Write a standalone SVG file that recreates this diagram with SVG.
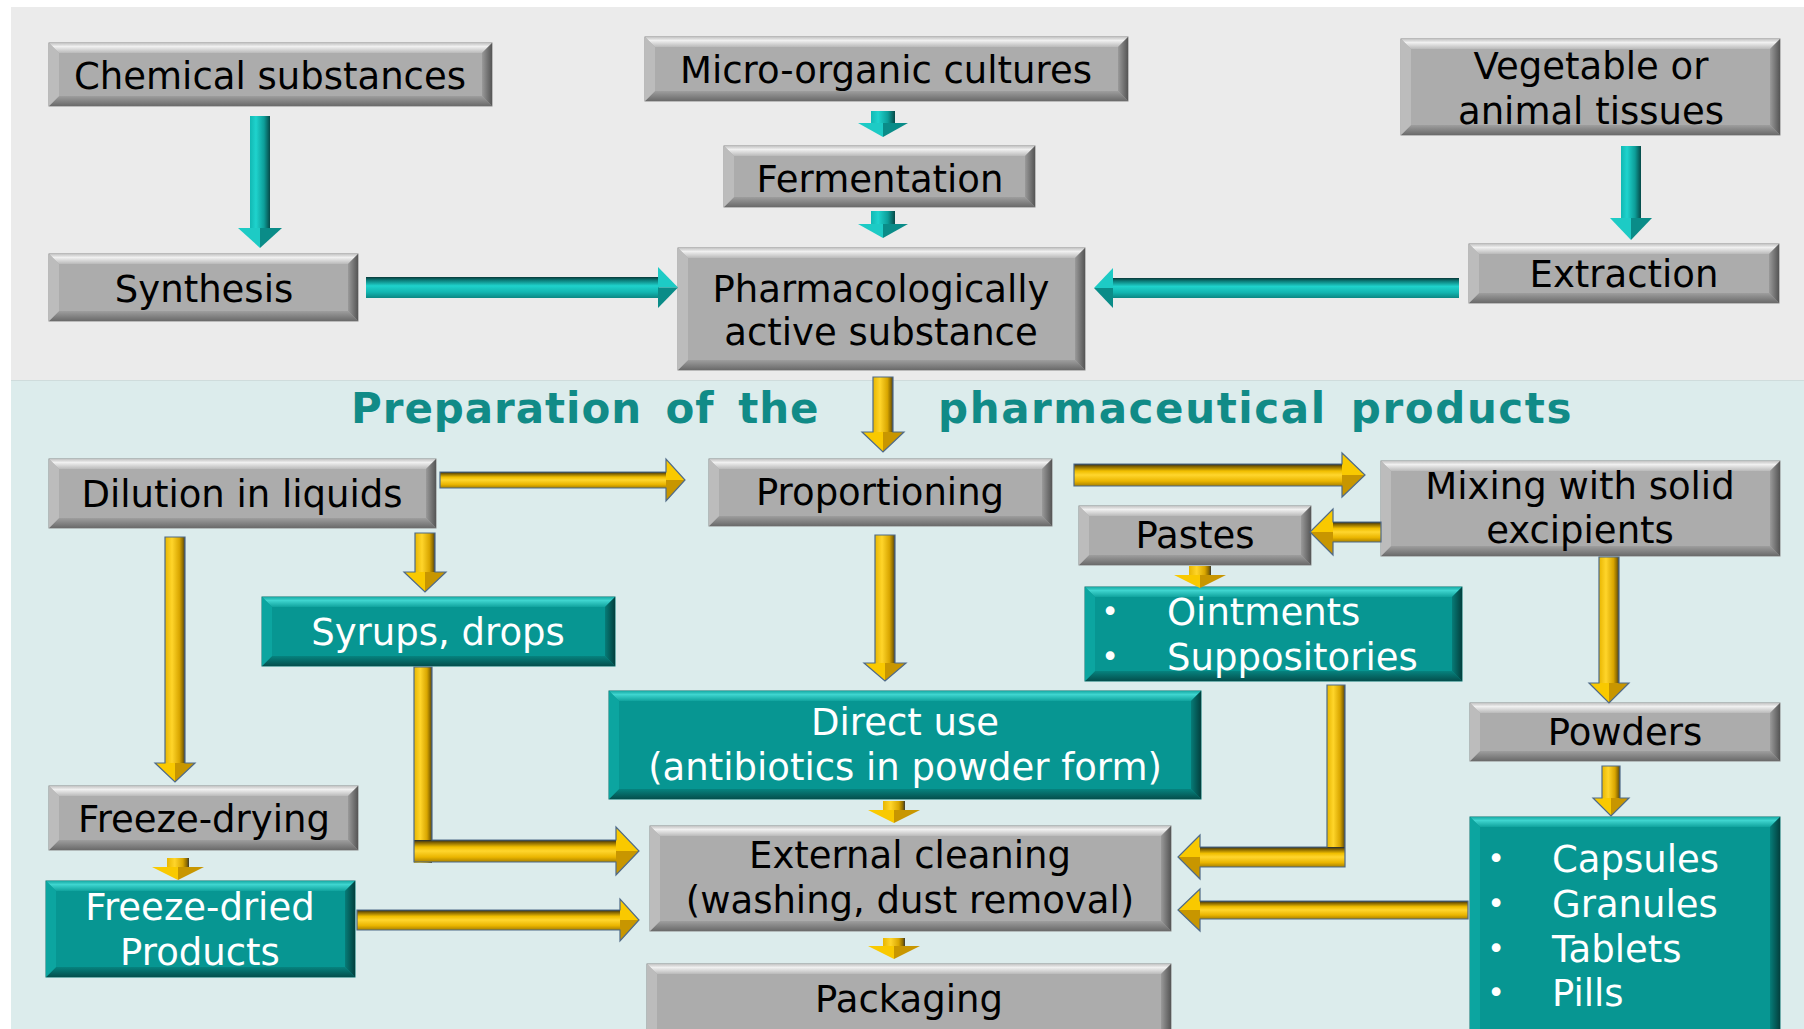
<svg xmlns="http://www.w3.org/2000/svg" width="1804" height="1029" viewBox="0 0 1804 1029">
<defs>
<style>
.t{font-family:"DejaVu Sans",Verdana,sans-serif;font-size:37px;fill:#000;text-anchor:middle}
.w{font-family:"DejaVu Sans",Verdana,sans-serif;font-size:37px;fill:#fff;text-anchor:middle}
.ws{font-family:"DejaVu Sans",Verdana,sans-serif;font-size:37px;fill:#fff}
.bu{font-family:"DejaVu Sans",Verdana,sans-serif;font-size:30px;fill:#fff;text-anchor:middle}
.h{font-family:"DejaVu Sans",Verdana,sans-serif;font-size:42px;font-weight:bold;fill:#118b87;letter-spacing:1.5px;word-spacing:8px}
.gf{fill:#acacac;stroke:#8a8a8a;stroke-width:1}
.gt{fill:url(#gTop)}.gl{fill:#bcbcbc}.gr{fill:url(#gRight)}.gb{fill:url(#gBot)}
.tf{fill:#079692;stroke:#05706d;stroke-width:1}
.tt{fill:url(#tTop)}.tl{fill:#0ca5a0}.tr{fill:url(#tRight)}.tb{fill:url(#tBot)}
.tsh{fill:url(#tH)}.tsv{fill:url(#tV)}.thl{fill:#1dcbc5}.thd{fill:#0a8c88}
.ysh{fill:url(#yH)}.ysv{fill:url(#yV)}.yhl{fill:#f9c900}.yhd{fill:#c89600}
.yo{fill:none;stroke:#4f6a88;stroke-width:1.2}
</style>
<linearGradient id="gTop" x1="0" y1="0" x2="0" y2="1"><stop offset="0" stop-color="#c4c4c4"/><stop offset="0.35" stop-color="#f0f0f0"/><stop offset="1" stop-color="#bababa"/></linearGradient>
<linearGradient id="gRight" x1="0" y1="0" x2="1" y2="0"><stop offset="0" stop-color="#9a9a9a"/><stop offset="1" stop-color="#555"/></linearGradient>
<linearGradient id="gBot" x1="0" y1="0" x2="0" y2="1"><stop offset="0" stop-color="#9e9e9e"/><stop offset="1" stop-color="#6a6a6a"/></linearGradient>
<linearGradient id="tTop" x1="0" y1="0" x2="0" y2="1"><stop offset="0" stop-color="#18aba6"/><stop offset="0.35" stop-color="#3fd5cf"/><stop offset="1" stop-color="#10a39e"/></linearGradient>
<linearGradient id="tRight" x1="0" y1="0" x2="1" y2="0"><stop offset="0" stop-color="#067c78"/><stop offset="1" stop-color="#03403e"/></linearGradient>
<linearGradient id="tBot" x1="0" y1="0" x2="0" y2="1"><stop offset="0" stop-color="#06837f"/><stop offset="1" stop-color="#044f4d"/></linearGradient>
<linearGradient id="tH" x1="0" y1="0" x2="0" y2="1"><stop offset="0" stop-color="#083838"/><stop offset="0.15" stop-color="#0b7a77"/><stop offset="0.42" stop-color="#1fd2cc"/><stop offset="0.72" stop-color="#12b6b1"/><stop offset="1" stop-color="#0a8783"/></linearGradient>
<linearGradient id="tV" x1="0" y1="0" x2="1" y2="0"><stop offset="0" stop-color="#12b8b3"/><stop offset="0.3" stop-color="#1fd3cd"/><stop offset="0.7" stop-color="#0d9e99"/><stop offset="1" stop-color="#064a48"/></linearGradient>
<linearGradient id="yH" x1="0" y1="0" x2="0" y2="1"><stop offset="0" stop-color="#1e2b38"/><stop offset="0.1" stop-color="#7a5c00"/><stop offset="0.32" stop-color="#f0be00"/><stop offset="0.5" stop-color="#ffd62e"/><stop offset="0.78" stop-color="#eab500"/><stop offset="1" stop-color="#a88000"/></linearGradient>
<linearGradient id="yV" x1="0" y1="0" x2="1" y2="0"><stop offset="0" stop-color="#e8b600"/><stop offset="0.35" stop-color="#ffd52a"/><stop offset="0.72" stop-color="#d9a600"/><stop offset="0.9" stop-color="#8c6a00"/><stop offset="1" stop-color="#3a3a30"/></linearGradient>
</defs>

<rect x="0" y="0" width="1804" height="1029" fill="#ffffff"/>
<rect x="11" y="7" width="1793" height="373" fill="#ebebeb"/>
<rect x="11" y="380" width="1793" height="649" fill="#dcecec"/>
<line x1="11" y1="380.5" x2="1804" y2="380.5" stroke="#cfdcdc" stroke-width="1"/>

<g id="title">
<text class="h" x="351" y="423" textLength="469" lengthAdjust="spacing">Preparation of the</text>
<text class="h" x="938" y="423" textLength="635" lengthAdjust="spacing">pharmaceutical products</text>
</g>

<g id="n-chemical">
<rect class="gf" x="49" y="43" width="443" height="63"/>
<path class="gt" d="M49 43h443l-10 10h-423z"/><path class="gb" d="M49 43m0 63h443l-10-10h-423z"/><path class="gl" d="M49 43v63l10-10v-43z"/><path class="gr" d="M49 43m443 0v63l-10-10v-43z"/>
<text class="t" x="270" y="89">Chemical substances</text>
</g>
<g id="n-micro">
<rect class="gf" x="645" y="37" width="483" height="64"/>
<path class="gt" d="M645 37h483l-10 10h-463z"/><path class="gb" d="M645 37m0 64h483l-10-10h-463z"/><path class="gl" d="M645 37v64l10-10v-44z"/><path class="gr" d="M645 37m483 0v64l-10-10v-44z"/>
<text class="t" x="886" y="83">Micro-organic cultures</text>
</g>
<g id="n-vegetable">
<rect class="gf" x="1401" y="39" width="379" height="96"/>
<path class="gt" d="M1401 39h379l-10 10h-359z"/><path class="gb" d="M1401 39m0 96h379l-10-10h-359z"/><path class="gl" d="M1401 39v96l10-10v-76z"/><path class="gr" d="M1401 39m379 0v96l-10-10v-76z"/>
<text class="t" x="1591" y="79">Vegetable or</text>
<text class="t" x="1591" y="124">animal tissues</text>
</g>
<g id="n-fermentation">
<rect class="gf" x="724" y="146" width="311" height="61"/>
<path class="gt" d="M724 146h311l-10 10h-291z"/><path class="gb" d="M724 146m0 61h311l-10-10h-291z"/><path class="gl" d="M724 146v61l10-10v-41z"/><path class="gr" d="M724 146m311 0v61l-10-10v-41z"/>
<text class="t" x="880" y="192">Fermentation</text>
</g>
<g id="n-synthesis">
<rect class="gf" x="49" y="254" width="309" height="67"/>
<path class="gt" d="M49 254h309l-10 10h-289z"/><path class="gb" d="M49 254m0 67h309l-10-10h-289z"/><path class="gl" d="M49 254v67l10-10v-47z"/><path class="gr" d="M49 254m309 0v67l-10-10v-47z"/>
<text class="t" x="204" y="302">Synthesis</text>
</g>
<g id="n-pharma">
<rect class="gf" x="678" y="248" width="407" height="122"/>
<path class="gt" d="M678 248h407l-10 10h-387z"/><path class="gb" d="M678 248m0 122h407l-10-10h-387z"/><path class="gl" d="M678 248v122l10-10v-102z"/><path class="gr" d="M678 248m407 0v122l-10-10v-102z"/>
<text class="t" x="881" y="302">Pharmacologically</text>
<text class="t" x="881" y="345">active substance</text>
</g>
<g id="n-extraction">
<rect class="gf" x="1469" y="244" width="310" height="59"/>
<path class="gt" d="M1469 244h310l-10 10h-290z"/><path class="gb" d="M1469 244m0 59h310l-10-10h-290z"/><path class="gl" d="M1469 244v59l10-10v-39z"/><path class="gr" d="M1469 244m310 0v59l-10-10v-39z"/>
<text class="t" x="1624" y="287">Extraction</text>
</g>
<g id="n-dilution">
<rect class="gf" x="49" y="459" width="387" height="69"/>
<path class="gt" d="M49 459h387l-10 10h-367z"/><path class="gb" d="M49 459m0 69h387l-10-10h-367z"/><path class="gl" d="M49 459v69l10-10v-49z"/><path class="gr" d="M49 459m387 0v69l-10-10v-49z"/>
<text class="t" x="242" y="507">Dilution in liquids</text>
</g>
<g id="n-proportioning">
<rect class="gf" x="709" y="459" width="343" height="67"/>
<path class="gt" d="M709 459h343l-10 10h-323z"/><path class="gb" d="M709 459m0 67h343l-10-10h-323z"/><path class="gl" d="M709 459v67l10-10v-47z"/><path class="gr" d="M709 459m343 0v67l-10-10v-47z"/>
<text class="t" x="880" y="505">Proportioning</text>
</g>
<g id="n-mixing">
<rect class="gf" x="1381" y="461" width="399" height="95"/>
<path class="gt" d="M1381 461h399l-10 10h-379z"/><path class="gb" d="M1381 461m0 95h399l-10-10h-379z"/><path class="gl" d="M1381 461v95l10-10v-75z"/><path class="gr" d="M1381 461m399 0v95l-10-10v-75z"/>
<text class="t" x="1580" y="499">Mixing with solid</text>
<text class="t" x="1580" y="543">excipients</text>
</g>
<g id="n-pastes">
<rect class="gf" x="1079" y="506" width="232" height="59"/>
<path class="gt" d="M1079 506h232l-10 10h-212z"/><path class="gb" d="M1079 506m0 59h232l-10-10h-212z"/><path class="gl" d="M1079 506v59l10-10v-39z"/><path class="gr" d="M1079 506m232 0v59l-10-10v-39z"/>
<text class="t" x="1195" y="548">Pastes</text>
</g>
<g id="n-powders">
<rect class="gf" x="1470" y="703" width="310" height="58"/>
<path class="gt" d="M1470 703h310l-10 10h-290z"/><path class="gb" d="M1470 703m0 58h310l-10-10h-290z"/><path class="gl" d="M1470 703v58l10-10v-38z"/><path class="gr" d="M1470 703m310 0v58l-10-10v-38z"/>
<text class="t" x="1625" y="745">Powders</text>
</g>
<g id="n-external">
<rect class="gf" x="650" y="826" width="521" height="105"/>
<path class="gt" d="M650 826h521l-10 10h-501z"/><path class="gb" d="M650 826m0 105h521l-10-10h-501z"/><path class="gl" d="M650 826v105l10-10v-85z"/><path class="gr" d="M650 826m521 0v105l-10-10v-85z"/>
<text class="t" x="910" y="868">External cleaning</text>
<text class="t" x="910" y="913">(washing, dust removal)</text>
</g>
<g id="n-freezedrying">
<rect class="gf" x="49" y="786" width="309" height="64"/>
<path class="gt" d="M49 786h309l-10 10h-289z"/><path class="gb" d="M49 786m0 64h309l-10-10h-289z"/><path class="gl" d="M49 786v64l10-10v-44z"/><path class="gr" d="M49 786m309 0v64l-10-10v-44z"/>
<text class="t" x="204" y="832">Freeze-drying</text>
</g>
<g id="n-packaging">
<rect class="gf" x="647" y="964" width="524" height="75"/>
<path class="gt" d="M647 964h524l-10 10h-504z"/><path class="gb" d="M647 964m0 75h524l-10-10h-504z"/><path class="gl" d="M647 964v75l10-10v-55z"/><path class="gr" d="M647 964m524 0v75l-10-10v-55z"/>
<text class="t" x="909" y="1012">Packaging</text>
</g>

<g id="n-syrups">
<rect class="tf" x="262" y="597" width="353" height="69"/>
<path class="tt" d="M262 597h353l-10 10h-333z"/><path class="tb" d="M262 597m0 69h353l-10-10h-333z"/><path class="tl" d="M262 597v69l10-10v-49z"/><path class="tr" d="M262 597m353 0v69l-10-10v-49z"/>
<text class="w" x="438" y="645">Syrups, drops</text>
</g>
<g id="n-ointments">
<rect class="tf" x="1085" y="587" width="377" height="94"/>
<path class="tt" d="M1085 587h377l-10 10h-357z"/><path class="tb" d="M1085 587m0 94h377l-10-10h-357z"/><path class="tl" d="M1085 587v94l10-10v-74z"/><path class="tr" d="M1085 587m377 0v94l-10-10v-74z"/>
<text class="bu" x="1110" y="622">•</text><text class="ws" x="1167" y="625">Ointments</text>
<text class="bu" x="1110" y="667">•</text><text class="ws" x="1167" y="670">Suppositories</text>
</g>
<g id="n-direct">
<rect class="tf" x="609" y="691" width="592" height="108"/>
<path class="tt" d="M609 691h592l-10 10h-572z"/><path class="tb" d="M609 691m0 108h592l-10-10h-572z"/><path class="tl" d="M609 691v108l10-10v-88z"/><path class="tr" d="M609 691m592 0v108l-10-10v-88z"/>
<text class="w" x="905" y="735">Direct use</text>
<text class="w" x="905" y="780">(antibiotics in powder form)</text>
</g>
<g id="n-freezedried">
<rect class="tf" x="46" y="881" width="309" height="96"/>
<path class="tt" d="M46 881h309l-10 10h-289z"/><path class="tb" d="M46 881m0 96h309l-10-10h-289z"/><path class="tl" d="M46 881v96l10-10v-76z"/><path class="tr" d="M46 881m309 0v96l-10-10v-76z"/>
<text class="w" x="200" y="920">Freeze-dried</text>
<text class="w" x="200" y="965">Products</text>
</g>
<g id="n-capsules">
<rect class="tf" x="1470" y="817" width="310" height="225"/>
<path class="tt" d="M1470 817h310l-10 10h-290z"/><path class="tl" d="M1470 817v225l10-10v-205z"/><path class="tr" d="M1470 817m310 0v225l-10-10v-205z"/>
<text class="bu" x="1496" y="869">•</text><text class="ws" x="1552" y="872">Capsules</text>
<text class="bu" x="1496" y="914">•</text><text class="ws" x="1552" y="917">Granules</text>
<text class="bu" x="1496" y="959">•</text><text class="ws" x="1552" y="962">Tablets</text>
<text class="bu" x="1496" y="1003">•</text><text class="ws" x="1552" y="1006">Pills</text>
</g>

<g id="connectors">
<g id="c-chem-synth"><rect class="tsv" x="250" y="116" width="20" height="113"/><path class="thl" d="M238 228H260V248Z"/><path class="thd" d="M260 228H282L260 248Z"/></g>
<g id="c-veg-extr"><rect class="tsv" x="1621" y="146" width="20" height="73"/><path class="thl" d="M1610 218H1631V240Z"/><path class="thd" d="M1631 218H1652L1631 240Z"/></g>
<g id="c-synth-pharma"><rect class="tsh" x="366" y="277" width="293" height="21"/><path class="thl" d="M658 267L678 287.5H658Z"/><path class="thd" d="M658 287.5H678L658 308Z"/></g>
<g id="c-extr-pharma"><rect class="tsh" x="1112" y="278" width="347" height="20"/><path class="thl" d="M1113 268L1094 288H1113Z"/><path class="thd" d="M1113 288H1094L1113 308Z"/></g>
<g id="c-micro-ferm"><rect class="tsv" x="871" y="111" width="24" height="14"/><path class="thl" d="M858 123H883V137Z"/><path class="thd" d="M883 123H908L883 137Z"/></g>
<g id="c-ferm-pharma"><rect class="tsv" x="871" y="211" width="24" height="14"/><path class="thl" d="M858 224H883V238Z"/><path class="thd" d="M883 224H908L883 238Z"/></g>
<g id="c-pharma-prop"><rect class="ysv" x="873" y="377" width="20" height="56"/><path class="yhl" d="M862 432H883V452Z"/><path class="yhd" d="M883 432H904L883 452Z"/><path class="yo" d="M873 377H893V432H904L883 452L862 432H873Z"/></g>
<g id="c-dil-prop"><rect class="ysh" x="440" y="472" width="227" height="16"/><path class="yhl" d="M666 459L685 480H666Z"/><path class="yhd" d="M666 480H685L666 501Z"/><path class="yo" d="M440 472H666V459L685 480L666 501V488H440Z"/></g>
<g id="c-prop-mix"><rect class="ysh" x="1074" y="464" width="269" height="22"/><path class="yhl" d="M1342 453L1365 475H1342Z"/><path class="yhd" d="M1342 475H1365L1342 497Z"/><path class="yo" d="M1074 464H1342V453L1365 475L1342 497V486H1074Z"/></g>
<g id="c-mix-pastes"><rect class="ysh" x="1332" y="522" width="49" height="20"/><path class="yhl" d="M1333 509L1310 532H1333Z"/><path class="yhd" d="M1333 532H1310L1333 555Z"/><path class="yo" d="M1381 522H1333V509L1310 532L1333 555V542H1381Z"/></g>
<g id="c-dil-syrups"><rect class="ysv" x="415" y="533" width="20" height="40"/><path class="yhl" d="M404 572H425V592Z"/><path class="yhd" d="M425 572H446L425 592Z"/><path class="yo" d="M415 533H435V572H446L425 592L404 572H415Z"/></g>
<g id="c-dil-freeze"><rect class="ysv" x="165" y="537" width="20" height="227"/><path class="yhl" d="M155 763H175V782Z"/><path class="yhd" d="M175 763H195L175 782Z"/><path class="yo" d="M165 537H185V763H195L175 782L155 763H165Z"/></g>
<g id="c-prop-direct"><rect class="ysv" x="875" y="535" width="20" height="129"/><path class="yhl" d="M864 663H885V681Z"/><path class="yhd" d="M885 663H906L885 681Z"/><path class="yo" d="M875 535H895V663H906L885 681L864 663H875Z"/></g>
<g id="c-mix-powders"><rect class="ysv" x="1599" y="557" width="20" height="127"/><path class="yhl" d="M1589 683H1609V703Z"/><path class="yhd" d="M1609 683H1629L1609 703Z"/><path class="yo" d="M1599 557H1619V683H1629L1609 703L1589 683H1599Z"/></g>
<g id="c-powders-caps"><rect class="ysv" x="1602" y="766" width="18" height="33"/><path class="yhl" d="M1593 798H1611V816Z"/><path class="yhd" d="M1611 798H1629L1611 816Z"/><path class="yo" d="M1602 766H1620V798H1629L1611 816L1593 798H1602Z"/></g>
<g id="c-syrups-ext"><rect class="ysv" x="414" y="667" width="18" height="196"/><rect class="ysh" x="414" y="840" width="203" height="22"/><path class="yhl" d="M616 827L639 851H616Z"/><path class="yhd" d="M616 851H639L616 875Z"/><path class="yo" d="M414 667H432V840H616V827L639 851L616 875V862H414Z"/></g>
<g id="c-fdried-ext"><rect class="ysh" x="357" y="910" width="264" height="20"/><path class="yhl" d="M620 899L639 920H620Z"/><path class="yhd" d="M620 920H639L620 941Z"/><path class="yo" d="M357 910H620V899L639 920L620 941V930H357Z"/></g>
<g id="c-oint-ext"><rect class="ysv" x="1327" y="685" width="18" height="182"/><rect class="ysh" x="1199" y="847" width="146" height="20"/><path class="yhl" d="M1200 835L1178 857H1200Z"/><path class="yhd" d="M1200 857H1178L1200 879Z"/><path class="yo" d="M1345 685V867H1200V879L1178 857L1200 835V847H1327V685Z"/></g>
<g id="c-caps-ext"><rect class="ysh" x="1199" y="901" width="269" height="18"/><path class="yhl" d="M1200 889L1178 910H1200Z"/><path class="yhd" d="M1200 910H1178L1200 931Z"/><path class="yo" d="M1468 901H1200V889L1178 910L1200 931V919H1468Z"/></g>
<g id="c-pastes-oint"><rect class="ysv" x="1189" y="566" width="22" height="11"/><path class="yhl" d="M1174 575H1200V588Z"/><path class="yhd" d="M1200 575H1226L1200 588Z"/></g>
<g id="c-direct-ext"><rect class="ysv" x="883" y="801" width="22" height="11"/><path class="yhl" d="M868 810H894V823Z"/><path class="yhd" d="M894 810H920L894 823Z"/></g>
<g id="c-ext-pack"><rect class="ysv" x="883" y="938" width="22" height="10"/><path class="yhl" d="M868 946H894V959Z"/><path class="yhd" d="M894 946H920L894 959Z"/></g>
<g id="c-fdry-fdried"><rect class="ysv" x="167" y="858" width="22" height="10"/><path class="yhl" d="M152 867H178V880Z"/><path class="yhd" d="M178 867H204L178 880Z"/></g>
</g>
</svg>
